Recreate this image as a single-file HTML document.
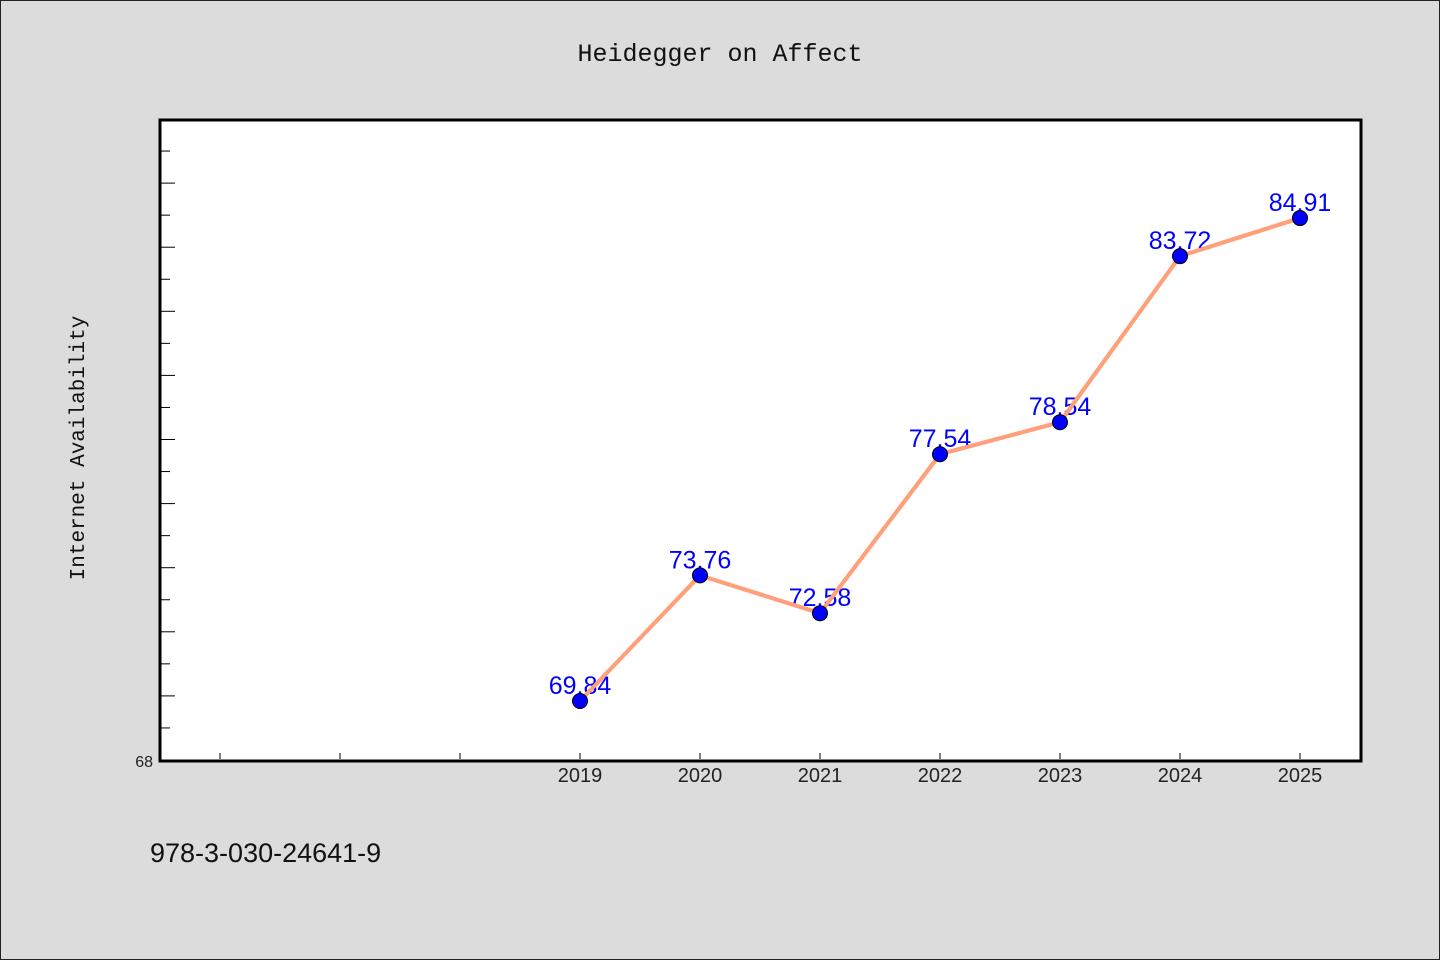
<!DOCTYPE html>
<html><head><meta charset="utf-8"><style>
html,body{margin:0;padding:0;}
body{width:1440px;height:960px;background:#dcdcdc;overflow:hidden;}
svg{display:block;}
</style></head><body>
<svg width="1440" height="960">
<rect x="0.5" y="0.5" width="1439" height="959" fill="#dcdcdc" stroke="#222"/>
<text x="720" y="61" text-anchor="middle" font-family="Liberation Mono, monospace" font-size="25" fill="#111">Heidegger on Affect</text>
<rect x="160" y="120" width="1201" height="641" fill="#fff" stroke="#000" stroke-width="3"/>
<text transform="translate(84,448) rotate(-90)" text-anchor="middle" font-family="Liberation Mono, monospace" font-size="21" fill="#111">Internet Availability</text>
<text x="150" y="862" font-family="Liberation Sans, sans-serif" font-size="27" fill="#111">978-3-030-24641-9</text>
<g id="axes"></g>
<g id="series"></g>
</svg>
<script>
const years=[2019,2020,2021,2022,2023,2024,2025];
const values=[69.84,73.76,72.58,77.54,78.54,83.72,84.91];
const labels=["69.84","73.76","72.58","77.54","78.54","83.72","84.91"];
const xTickYears=[2016,2017,2018,2019,2020,2021,2022,2023,2024,2025];
const yMin=68,yMax=88;
const ns="http://www.w3.org/2000/svg";
function X(y){return 580+(y-2019)*120;}
function Y(v){return 760-(v-yMin)*(641/(yMax-yMin));}
function mk(t,a,p){const e=document.createElementNS(ns,t);for(const k in a)e.setAttribute(k,a[k]);p.appendChild(e);return e;}
const ax=document.getElementById('axes');
for(let v=yMin+1;v<yMax;v++){
 const l=mk('line',{x1:161,x2:v%2===0?175:170,y1:Y(v),y2:Y(v),stroke:'#000','stroke-width':1},ax);
 
 
}
const t68=mk('text',{x:153,y:767,'text-anchor':'end','font-family':'Liberation Sans, sans-serif','font-size':16,fill:'#222'},ax);
t68.textContent=String(yMin);


xTickYears.forEach(yr=>{
 const l=mk('line',{x1:X(yr),x2:X(yr),y1:759,y2:753,stroke:'#000','stroke-width':1},ax);
 
 
 if(years.includes(yr)){
  const t=mk('text',{x:X(yr),y:782,'text-anchor':'middle','font-family':'Liberation Sans, sans-serif','font-size':20,fill:'#222'},ax);
  t.textContent=String(yr);
  
  
 }
});
const s=document.getElementById('series');
const line=mk('polyline',{points:years.map((y,i)=>X(y)+','+Y(values[i])).join(' '),fill:'none',stroke:'#ffa07a','stroke-width':4,'stroke-linejoin':'round'},s);


years.forEach((y,i)=>{
 const t=mk('text',{x:X(y),y:Y(values[i])-7,'text-anchor':'middle','font-family':'Liberation Sans, sans-serif','font-size':25,fill:'#0000ff'},s);
 t.textContent=labels[i];
 
 
});
mk('polyline',{points:years.map((y,i)=>X(y)+','+Y(values[i])).join(' '),fill:'none',stroke:'#ffa07a','stroke-width':4,'stroke-linejoin':'round'},s);
years.forEach((y,i)=>{
 const c=mk('circle',{cx:X(y),cy:Y(values[i]),r:7.5,fill:'#0000ff',stroke:'#000','stroke-width':1},s);
 
 
});
</script>
</body></html>
